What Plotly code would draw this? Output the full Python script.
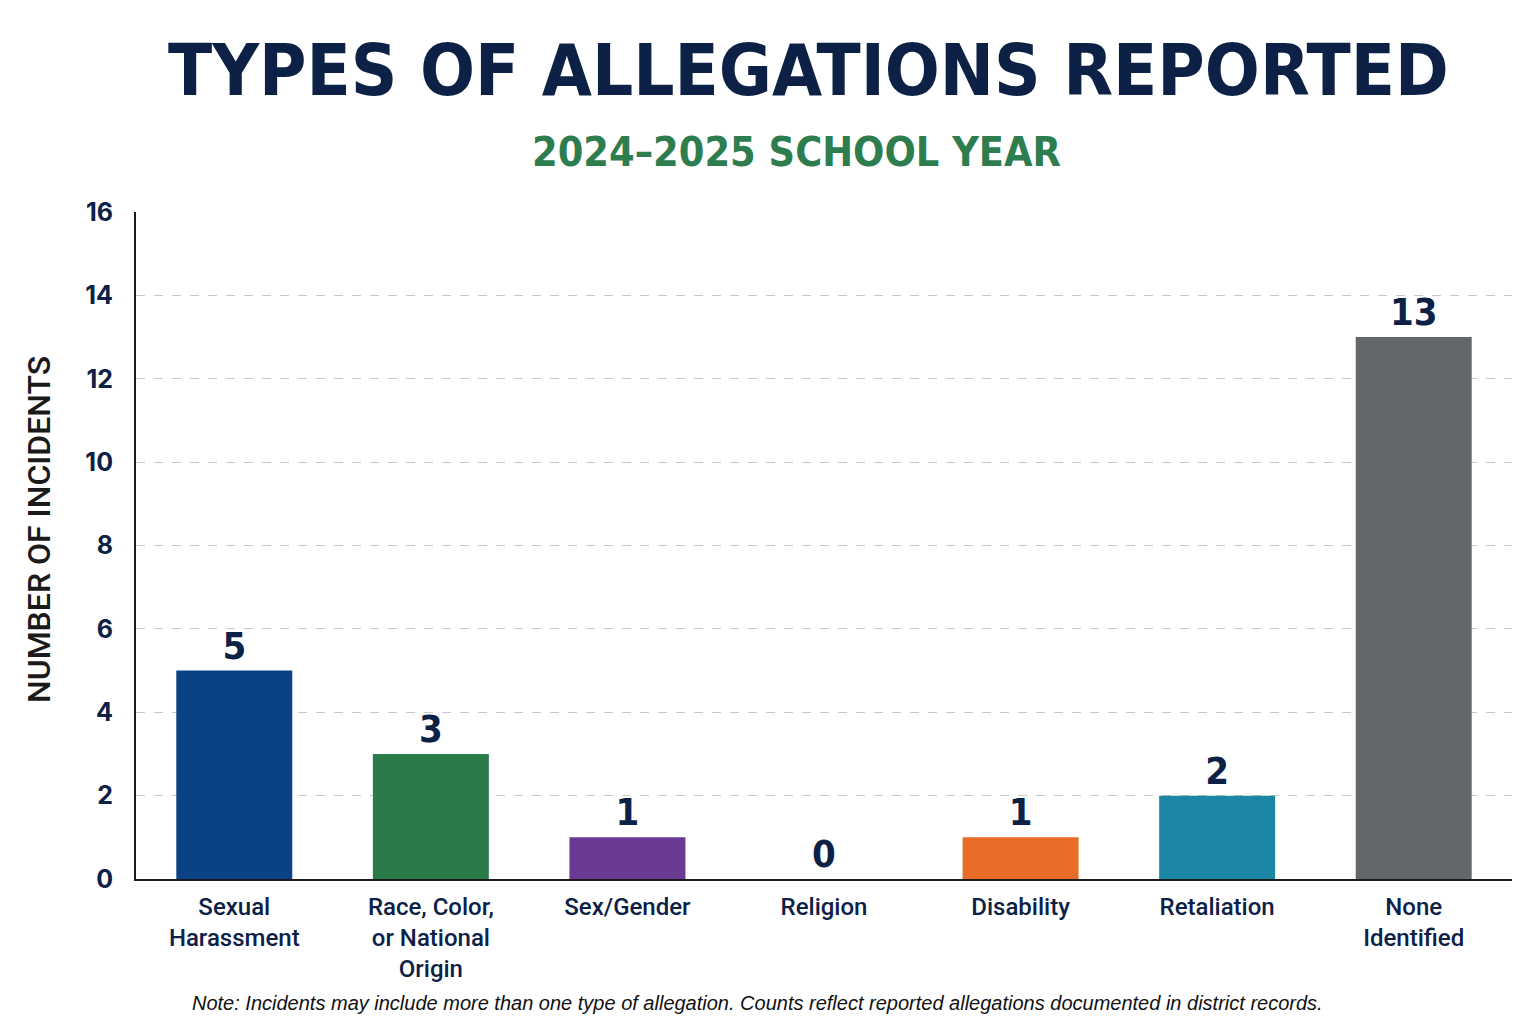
import plotly.graph_objects as go

categories = ["Sexual<br>Harassment", "Race, Color,<br>or National<br>Origin", "Sex/Gender",
              "Religion", "Disability", "Retaliation", "None<br>Identified"]
counts = [5, 3, 1, 0, 1, 2, 13]
bar_colors = ["#0a4285", "#2a7a4a", "#6a3a95", "#8a8a8a", "#e86d28", "#1b87a5", "#63676b"]
y_ticks = [0, 2, 4, 6, 8, 10, 12, 14, 16]

NAVY = "#0d2147"
COND = "DejaVu Sans Condensed, Liberation Sans Narrow, Arial Narrow, sans-serif"

L, R, T, B = 136, 24, 212, 145

fig = go.Figure()
fig.add_trace(go.Bar(
    x=categories, y=counts,
    marker=dict(color=bar_colors, line=dict(width=0)),
    text=[str(v) for v in counts],
    textposition="outside",
    textfont=dict(family=COND, size=38, color=NAVY, weight="bold"),
    cliponaxis=False,
    width=0.59,
))

fig.update_layout(
    width=1536, height=1024,
    margin=dict(l=L, r=R, t=T, b=B),
    plot_bgcolor="white", paper_bgcolor="white",
    showlegend=False,
    xaxis=dict(
        showline=True, linecolor="#1a1a1a", linewidth=2,
        tickfont=dict(family="Roboto", size=24, color=NAVY, weight=500),
        ticks="outside", ticklen=5, tickcolor="rgba(0,0,0,0)", showgrid=False,
    ),
    yaxis=dict(
        range=[0, 16], tickvals=y_ticks,
        showline=True, linecolor="#1a1a1a", linewidth=2,
        showgrid=True, gridcolor="#c8c8c8", griddash="dash", gridwidth=1,
        tickfont=dict(family="Inter", size=25, color=NAVY, weight="bold"),
        ticks="", ticklabelstandoff=16,
        zeroline=False,
    ),
    annotations=[
        dict(text="TYPES OF ALLEGATIONS REPORTED", showarrow=False, xref="paper", yref="paper",
             font=dict(family=COND, size=72, color=NAVY, weight="bold")),
        dict(text="2024\u20132025 SCHOOL YEAR", showarrow=False, xref="paper", yref="paper",
             font=dict(family=COND, size=41, color="#2e7d4f", weight="bold")),
        dict(text="Note: Incidents may include more than one type of allegation. Counts reflect reported allegations documented in district records.",
             showarrow=False, xref="paper", yref="paper",
             font=dict(family="Liberation Sans", size=20, color="#111111", style="italic")),
        dict(text="NUMBER OF INCIDENTS", showarrow=False, xref="paper", yref="paper", textangle=-90,
             font=dict(family="Roboto", size=32, color="#1a1a1a", weight=500)),
    ],
)

plot_h = 1024 - T - B
plot_w = 1536 - L - R
def py(pix_y):
    return (1024 - B - pix_y) / plot_h
def px(pix_x):
    return (pix_x - L) / plot_w

anns = list(fig.layout.annotations)
anns[0].update(x=px(808), y=py(70), xanchor="center", yanchor="middle")
anns[1].update(x=px(796), y=py(152), xanchor="center", yanchor="middle")
anns[2].update(x=px(757), y=py(1003), xanchor="center", yanchor="middle")
anns[3].update(x=px(39), y=py(530), xanchor="center", yanchor="middle")
fig.update_layout(annotations=anns)

fig.write_html("out.html")
